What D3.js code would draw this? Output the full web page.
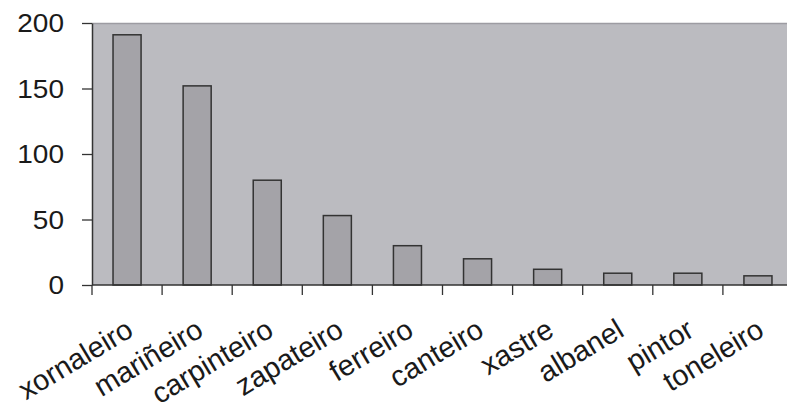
<!DOCTYPE html>
<html lang="gl">
  <head>
    <meta charset="UTF-8" />
    <title>Oficios</title>
    <script src="https://d3js.org/d3.v7.min.js"></script>
    <style>
      html,
      body {
        margin: 0;
        padding: 0;
        background: #ffffff;
      }
      text {
        font-family: "Liberation Sans", Arial, sans-serif;
        fill: #1a1a1a;
      }
    </style>
  </head>
  <body>
    <div id="viz"></div>
    <script>
      // data
      const trades = [
        "xornaleiro",
        "mariñeiro",
        "carpinteiro",
        "zapateiro",
        "ferreiro",
        "canteiro",
        "xastre",
        "albanel",
        "pintor",
        "toneleiro",
      ];
      const counts = [191, 152, 80, 53, 30, 20, 12, 9, 9, 7];
      const yTicks = [0, 50, 100, 150, 200];

      const W = 787,
        H = 411;
      // plot area runs a bit past the right edge, like the source image
      const margin = { top: 23, right: -6, bottom: 126, left: 92 };
      const width = W - margin.left - margin.right;
      const height = H - margin.top - margin.bottom;
      const stretch = 1.12; // tick numbers look a little wide

      const svg = d3
        .select("#viz")
        .append("svg")
        .attr("width", W)
        .attr("height", H);

      const g = svg
        .append("g")
        .attr("transform", `translate(${margin.left},${margin.top})`);

      const x = d3
        .scaleBand()
        .domain(trades)
        .range([0, width])
        .paddingInner(0.6)
        .paddingOuter(0.3);

      const y = d3.scaleLinear().domain([0, 200]).range([height, 0]);

      // grey plot background
      g.append("rect")
        .attr("x", 0)
        .attr("y", 0)
        .attr("width", width)
        .attr("height", height)
        .attr("fill", "#bbbbc0");
      g.append("line")
        .attr("x1", 0)
        .attr("x2", width)
        .attr("y1", 0.5)
        .attr("y2", 0.5)
        .attr("stroke", "#9d9ca2")
        .attr("stroke-width", 1.5);

      // bars
      g.selectAll("rect.bar")
        .data(counts)
        .join("rect")
        .attr("class", "bar")
        .attr("x", (d, i) => x(trades[i]))
        .attr("y", (d) => y(d))
        .attr("width", x.bandwidth())
        .attr("height", (d) => y(0) - y(d))
        .attr("fill", "#a4a3a8")
        .attr("stroke", "#333333")
        .attr("stroke-width", 1.5);

      // y axis
      const yAxis = g
        .append("g")
        .call(d3.axisLeft(y).tickValues(yTicks).tickSize(10).tickSizeOuter(0));
      yAxis.select(".domain").attr("stroke", "#333").attr("stroke-width", 1.5);
      yAxis.selectAll(".tick line").attr("stroke", "#333").attr("stroke-width", 1.3);
      yAxis
        .selectAll(".tick text")
        .attr("x", 0)
        .attr("dy", "0.34em")
        .attr("transform", `translate(-28,0) scale(${stretch},1)`)
        .style("font-size", "25px");

      // x axis: ticks sit on band boundaries
      const xAxis = g.append("g").attr("transform", `translate(0,${height})`);
      xAxis
        .append("line")
        .attr("x1", 0)
        .attr("x2", width)
        .attr("stroke", "#333")
        .attr("stroke-width", 1.5);

      const half = (x.step() * x.paddingInner()) / 2;
      const bounds = trades.map((t) => x(t) - half).concat([width]);
      bounds[0] = 0;
      xAxis
        .selectAll("line.tick")
        .data(bounds)
        .join("line")
        .attr("class", "tick")
        .attr("x1", (d) => d)
        .attr("x2", (d) => d)
        .attr("y1", 0)
        .attr("y2", 10)
        .attr("stroke", "#333")
        .attr("stroke-width", 1.3);

      xAxis
        .selectAll("text.lab")
        .data(trades)
        .join("text")
        .attr("class", "lab")
        .attr("text-anchor", "end")
        .attr(
          "transform",
          (d) => `translate(${x(d) + x.bandwidth() / 2 + 8},50) rotate(-31)`
        )
        .style("font-size", "29px")
        .text((d) => d);
    </script>
  </body>
</html>
